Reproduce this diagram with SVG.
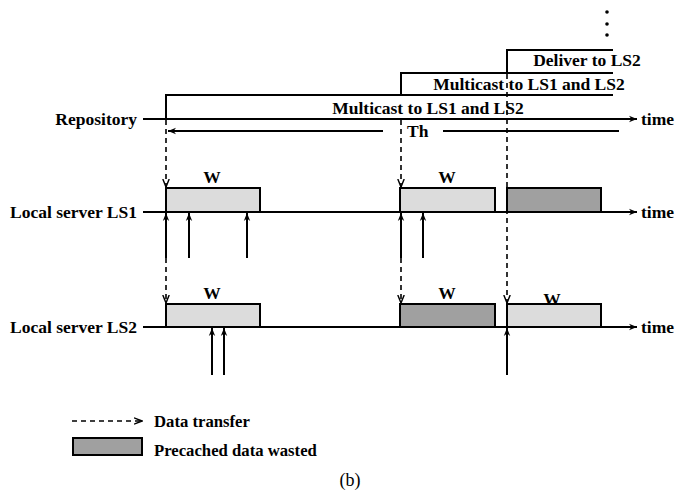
<svg xmlns="http://www.w3.org/2000/svg" width="678" height="491" viewBox="0 0 678 491">
<defs>
<style>
.t{font-family:"Liberation Serif","Times New Roman",serif;font-weight:bold;font-size:17.5px;fill:#000}
.tn{font-family:"Liberation Serif","Times New Roman",serif;font-size:18px;fill:#000}
.ax{stroke:#000;stroke-width:2;fill:none}
.ln{stroke:#000;stroke-width:2;fill:none}
.dash{stroke:#000;stroke-width:1.6;stroke-dasharray:5,4;fill:none}
.light{fill:#dcdcdc;stroke:#000;stroke-width:2}
.dark{fill:#a0a0a0;stroke:#000;stroke-width:2}
</style>
<marker id="ah" viewBox="0 0 10 10" refX="10" refY="5" markerWidth="13" markerHeight="8" markerUnits="userSpaceOnUse" orient="auto"><path d="M0,1 L10,5 L0,9 L3,5 Z" fill="#000"/></marker>
<marker id="dh" viewBox="0 0 10 10" refX="10" refY="5" markerWidth="9" markerHeight="8" markerUnits="userSpaceOnUse" orient="auto"><path d="M0,1 L10,5 L0,9" fill="none" stroke="#000" stroke-width="1.8"/></marker>
</defs>
<rect width="678" height="491" fill="#fff"/>

<g id="repository">
<text class="t" x="137" y="125" text-anchor="end">Repository</text>
<line class="ax" x1="143" y1="119" x2="637" y2="119" marker-end="url(#ah)"/>
<text class="t" x="641" y="125">time</text>
</g>
<g id="ls1">
<text class="t" x="137" y="218" text-anchor="end">Local server LS1</text>
<line class="ax" x1="143" y1="212" x2="637" y2="212" marker-end="url(#ah)"/>
<text class="t" x="641" y="218">time</text>
<rect class="light" x="166" y="188" width="94" height="24"/>
<rect class="light" x="400" y="188" width="95" height="24"/>
<rect class="dark" x="507" y="188" width="94" height="24"/>
<text class="t" x="212" y="183" text-anchor="middle">W</text>
<text class="t" x="447" y="183" text-anchor="middle">W</text>
</g>
<g id="ls2">
<text class="t" x="137" y="333" text-anchor="end">Local server LS2</text>
<line class="ax" x1="143" y1="327" x2="637" y2="327" marker-end="url(#ah)"/>
<text class="t" x="641" y="333">time</text>
<rect class="light" x="166" y="304" width="94" height="23"/>
<rect class="dark" x="400" y="304" width="95" height="23"/>
<rect class="light" x="507" y="304" width="94" height="23"/>
<text class="t" x="212" y="299" text-anchor="middle">W</text>
<text class="t" x="447" y="299" text-anchor="middle">W</text>
<text class="t" x="552" y="305" text-anchor="middle">W</text>
</g>
<g id="multicast1">
<polyline class="ln" points="166,119 166,95 613,95"/>
<text class="t" x="428" y="114" text-anchor="middle">Multicast to LS1 and LS2</text>
</g>
<g id="multicast2">
<polyline class="ln" points="401,95 401,73 613,73"/>
<text class="t" x="529" y="90" text-anchor="middle">Multicast to LS1 and LS2</text>
</g>
<g id="deliver">
<polyline class="ln" points="507,73 507,50 613,50"/>
<text class="t" x="587" y="66" text-anchor="middle">Deliver to LS2</text>
<circle cx="607" cy="12" r="1.8" fill="#000"/>
<circle cx="607" cy="24" r="1.8" fill="#000"/>
<circle cx="607" cy="35" r="1.8" fill="#000"/>
</g>
<g id="th">
<line class="ln" x1="383" y1="131" x2="168" y2="131" marker-end="url(#ah)"/>
<text class="t" x="407" y="137">Th</text>
<line class="ln" x1="443" y1="131" x2="619" y2="131"/>
</g>
<g id="connectors">
<line class="dash" x1="166" y1="120" x2="166" y2="187" marker-end="url(#dh)"/>
<line class="dash" x1="166" y1="258" x2="166" y2="303" marker-end="url(#dh)"/>
<line class="dash" x1="401" y1="120" x2="401" y2="187" marker-end="url(#dh)"/>
<line class="dash" x1="401" y1="258" x2="401" y2="303" marker-end="url(#dh)"/>
<line class="dash" x1="507" y1="74" x2="507" y2="303" marker-end="url(#dh)"/>
<line class="ln" x1="166" y1="258" x2="166" y2="213" marker-end="url(#ah)"/>
<line class="ln" x1="189" y1="258" x2="189" y2="213" marker-end="url(#ah)"/>
<line class="ln" x1="247" y1="258" x2="247" y2="213" marker-end="url(#ah)"/>
<line class="ln" x1="401" y1="258" x2="401" y2="213" marker-end="url(#ah)"/>
<line class="ln" x1="423" y1="258" x2="423" y2="213" marker-end="url(#ah)"/>
<line class="ln" x1="212" y1="375" x2="212" y2="328" marker-end="url(#ah)"/>
<line class="ln" x1="224" y1="375" x2="224" y2="328" marker-end="url(#ah)"/>
<line class="ln" x1="507" y1="375" x2="507" y2="328" marker-end="url(#ah)"/>
</g>
<g id="legend">
<line class="dash" x1="72" y1="421" x2="142" y2="421" marker-end="url(#dh)"/>
<text class="t" x="154" y="427" style="font-size:16.7px">Data transfer</text>
<rect class="dark" x="73" y="438" width="69" height="17" stroke-width="1.5"/>
<text class="t" x="154" y="456" style="font-size:16.7px">Precached data wasted</text>
<text class="tn" x="350" y="486" text-anchor="middle">(b)</text>
</g>
</svg>
